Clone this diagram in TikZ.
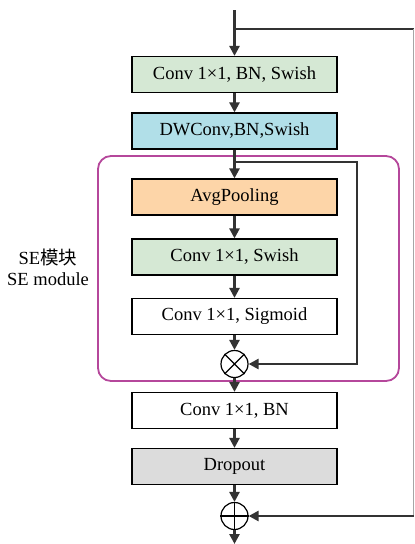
\documentclass[tikz,border=0pt]{standalone}
\usepackage{fontspec}
\setmainfont{Liberation Serif}
\newfontfamily\cjk{Noto Sans CJK SC}
\usetikzlibrary{arrows.meta,shapes.misc}
\definecolor{boxgreen}{HTML}{D5E8D4}
\definecolor{boxcyan}{HTML}{B1DFE8}
\definecolor{boxorange}{HTML}{FDD5A8}
\definecolor{boxgray}{HTML}{DCDCDC}
\definecolor{semag}{HTML}{B5479B}
\definecolor{linegray}{HTML}{333333}
\begin{document}
\begin{tikzpicture}[x=1pt,y=-1pt,
  blk/.style={draw=black,line width=1.2pt,rectangle,minimum width=205pt,minimum height=36pt,inner sep=0pt,font=\fontsize{18.5}{20}\selectfont},
  conn/.style={draw=linegray,line width=2.6pt,-{Triangle[length=10pt,width=10pt]}},
  plainline/.style={draw=linegray,line width=2.6pt},
  opnode/.style={draw=black,line width=1.2pt,circle,minimum size=27pt,inner sep=0pt}
]
\useasboundingbox (0,0) rectangle (415,544);
% SE module frame
\node[draw=semag,line width=1.8pt,rounded corners=13pt,minimum width=301pt,minimum height=225pt,inner sep=0pt] (se) at (248.5,268.5) {};
\node[align=center,font=\fontsize{18.5}{21}\selectfont] (selabel) at (48,267) {SE{\cjk 模块}\\SE module};

\coordinate (top) at (234.5,10);
\node[blk,fill=boxgreen] (b1) at (234.5,74.5) {Conv 1×1, BN, Swish};
\node[blk,fill=boxcyan] (b2) at (234.5,131) {DWConv,BN,Swish};
\node[blk,fill=boxorange] (b3) at (234.5,197) {AvgPooling};
\node[blk,fill=boxgreen] (b4) at (234.5,257) {Conv 1×1, Swish};
\node[blk,fill=white] (b5) at (234.5,316.5) {Conv 1×1, Sigmoid};
\node[opnode] (mul) at (234.5,364) {};
\draw[line width=1.2pt] (mul.north east) -- (mul.south west) (mul.north west) -- (mul.south east);
\node[blk,fill=white] (b6) at (234.5,410.5) {Conv 1×1, BN};
\node[blk,fill=boxgray] (b7) at (234.5,466.5) {Dropout};
\node[opnode] (add) at (234.5,516) {};
\draw[line width=1.2pt] (add.north) -- (add.south) (add.west) -- (add.east);
\coordinate (bottom) at (234.5,544);

% main path
\draw[conn] (top) -- (b1);
\draw[conn] (b1) -- (b2);
\draw[conn] (b2) -- (b3);
\draw[conn] (b3) -- (b4);
\draw[conn] (b4) -- (b5);
\draw[conn] (b5) -- (mul);
\draw[conn] (mul) -- (b6);
\draw[conn] (b6) -- (b7);
\draw[conn] (b7) -- (add);
\draw[conn] (add) -- (bottom);

% inner skip
\coordinate (s1) at (234.5,162);
\coordinate (s2) at (357,162);
\coordinate (s3) at (357,364);
\draw[conn] (s1) -- (s2) -- (s3) -- (mul);

% outer skip
\coordinate (o1) at (234.5,29);
\coordinate (o2) at (413.5,29);
\coordinate (o3) at (413.5,516);
\draw[plainline,line width=2pt] (o1) -- (o2);
\draw[draw=gray!70,line width=1pt] (o2) -- (o3);
\draw[conn] (o3) -- (add);
\end{tikzpicture}
\end{document}
